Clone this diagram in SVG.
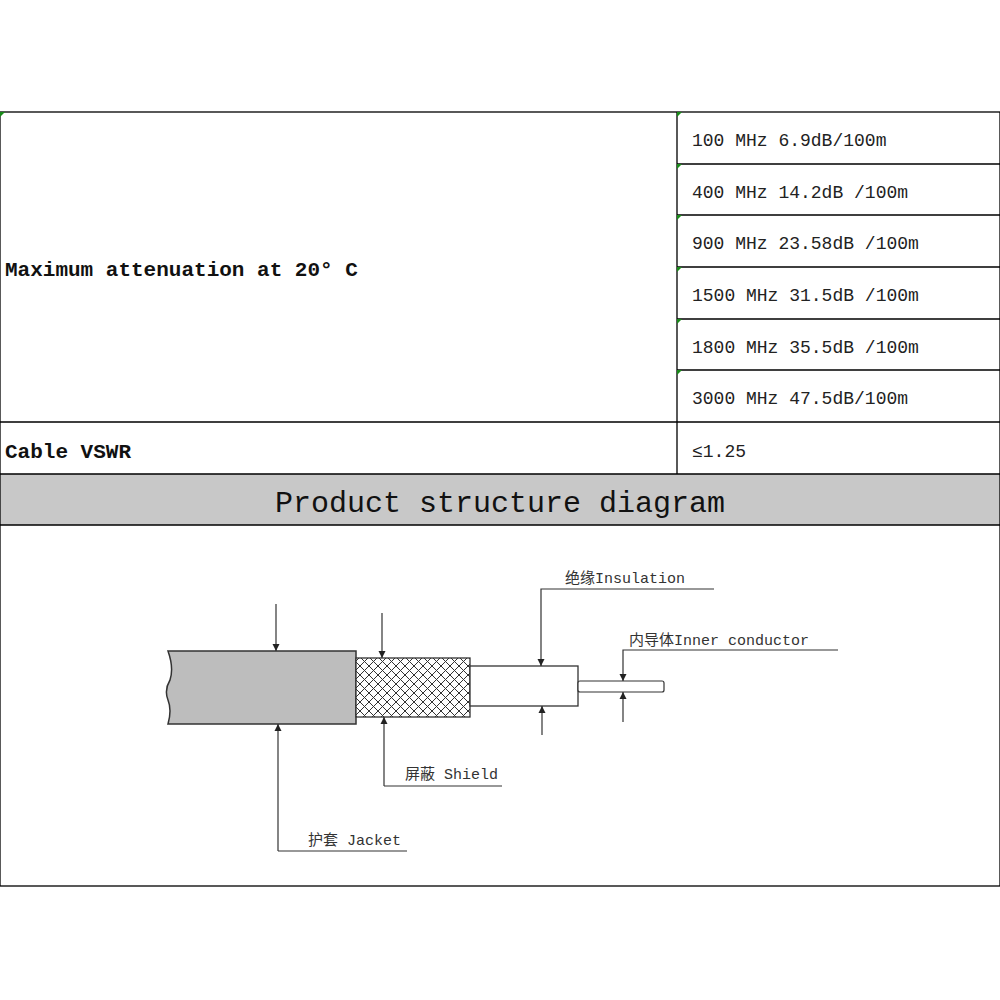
<svg xmlns="http://www.w3.org/2000/svg" width="1000" height="1000" viewBox="0 0 1000 1000">
<style>
.b{fill:none;stroke:#000;stroke-width:1.3}
.l{fill:none;stroke:#333;stroke-width:1.2}
.tl{font-family:"Liberation Mono","Noto Sans CJK SC",monospace;font-weight:bold;font-size:21px;fill:#111}
.tr{font-family:"Liberation Mono","Noto Sans CJK SC",monospace;font-size:18px;fill:#222}
.lab{font-family:"Liberation Mono","Noto Sans CJK SC",monospace;font-size:15px;fill:#333}
</style>
<defs>
<pattern id="hatch" width="9" height="9" patternUnits="userSpaceOnUse">
<rect width="9" height="9" fill="#fff"/>
<path d="M0 0L9 9M9 0L0 9" stroke="#333" stroke-width="1"/>
</pattern>
<marker id="ar" viewBox="0 0 8 8" refX="8" refY="4" markerWidth="6" markerHeight="6" orient="auto"><path d="M0 0L8 4L0 8z" fill="#222"/></marker>
</defs>
<rect width="1000" height="1000" fill="#fff"/>
<g id="table">
<rect x="0" y="474" width="1000" height="51" fill="#c8c8c8"/>
<rect x="0" y="112" width="1000" height="774" class="b"/>
<path class="b" d="M677 112V474M677 164H1000M677 215H1000M677 267H1000M677 319H1000M677 370H1000M0 422H1000M0 474H1000M0 525H1000"/>
<g fill="#1a8a1a"><path d="M0 112h5l-5 5z"/><path d="M677 112h5l-5 5z"/><path d="M677 164h5l-5 5z"/><path d="M677 215h5l-5 5z"/><path d="M677 267h5l-5 5z"/><path d="M677 319h5l-5 5z"/><path d="M677 370h5l-5 5z"/></g>
<text class="tl" x="5" y="276">Maximum attenuation at 20° C</text>
<text class="tl" x="5" y="458">Cable VSWR</text>
<text class="tr" x="692" y="146">100 MHz 6.9dB/100m</text>
<text class="tr" x="692" y="198">400 MHz 14.2dB /100m</text>
<text class="tr" x="692" y="249">900 MHz 23.58dB /100m</text>
<text class="tr" x="692" y="301">1500 MHz 31.5dB /100m</text>
<text class="tr" x="692" y="353">1800 MHz 35.5dB /100m</text>
<text class="tr" x="692" y="404">3000 MHz 47.5dB/100m</text>
<text class="tr" x="692" y="457">≤1.25</text>
<text x="500" y="512" text-anchor="middle" font-family="Liberation Mono,monospace" font-size="30" fill="#111">Product structure diagram</text>
</g>
<g id="cable">
<path d="M168 651H356V724H168Q172 710 168 700Q164 690 170 680Q174 668 168 651Z" fill="#bdbdbd" stroke="#333" stroke-width="1.5"/>
<rect x="356" y="658" width="114" height="59" fill="url(#hatch)" stroke="#333" stroke-width="1.3"/>
<rect x="470" y="666" width="108" height="40" fill="#fff" stroke="#333" stroke-width="1.3"/>
<rect x="578" y="681" width="86" height="11" rx="2" fill="#fff" stroke="#333" stroke-width="1.2"/>
</g>
<g id="connectors">
<path class="l" d="M276 604V651" marker-end="url(#ar)"/>
<path class="l" d="M278 851V724" marker-end="url(#ar)"/>
<path class="l" d="M278 851H407"/>
<path class="l" d="M382 613V658" marker-end="url(#ar)"/>
<path class="l" d="M384 786V717" marker-end="url(#ar)"/>
<path class="l" d="M384 786H502"/>
<path class="l" d="M714 589H541V666" marker-end="url(#ar)"/>
<path class="l" d="M542 735V706" marker-end="url(#ar)"/>
<path class="l" d="M838 650H623V681" marker-end="url(#ar)"/>
<path class="l" d="M623 722V692" marker-end="url(#ar)"/>
</g>
<g id="labels">
<text class="lab" x="308" y="845">护套 Jacket</text>
<text class="lab" x="405" y="779">屏蔽 Shield</text>
<text class="lab" x="565" y="583">绝缘Insulation</text>
<text class="lab" x="629" y="645">内导体Inner conductor</text>
</g>
</svg>
